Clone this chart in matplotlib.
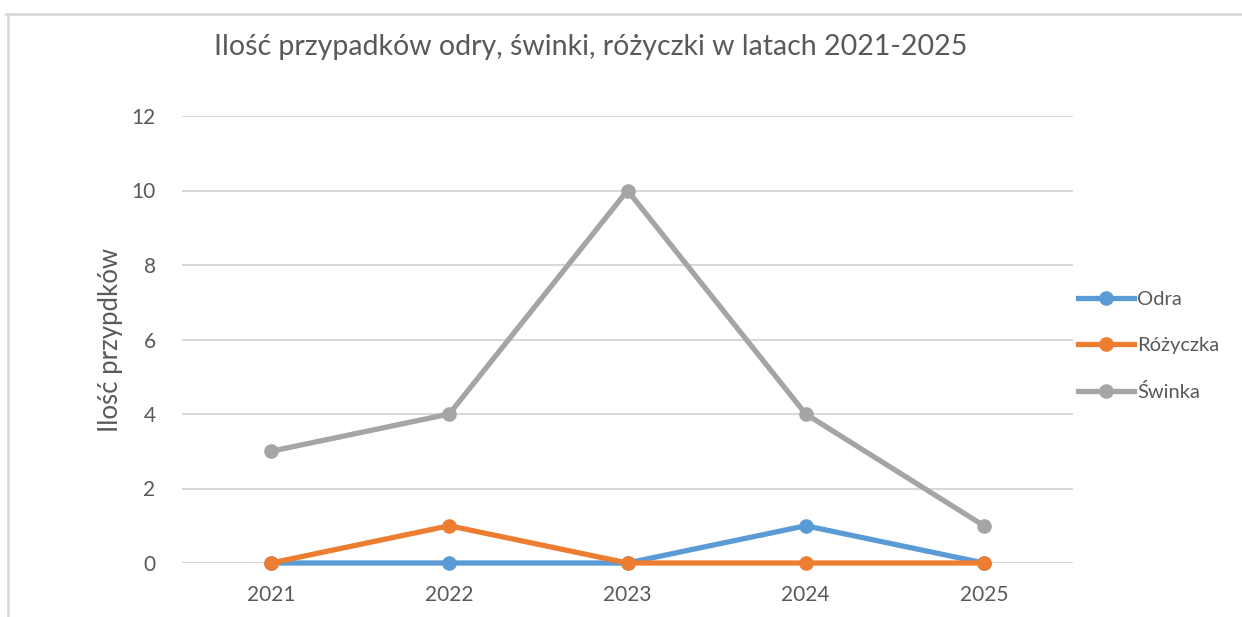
import matplotlib
matplotlib.use("Agg")
import matplotlib.pyplot as plt
from matplotlib.lines import Line2D

years = ["2021", "2022", "2023", "2024", "2025"]
odra = [0, 0, 0, 1, 0]
rozyczka = [0, 1, 0, 0, 0]
swinka = [3, 4, 10, 4, 1]
series_names = ["Odra", "Różyczka", "Świnka"]
yticks = [0, 2, 4, 6, 8, 10, 12]

colors = ["#5B9BD5", "#ED7D31", "#A5A5A5"]
txt = "#595959"
plt.rcParams["font.family"] = ["Lato", "DejaVu Sans"]

fig = plt.figure(figsize=(12.42, 6.17), dpi=100)
ax = fig.add_axes([182/1242, 1-563/617, (1073-182)/1242, (563-116)/617])

x = list(range(len(years)))
for vals, name, c in zip([odra, rozyczka, swinka], series_names, colors):
    ax.plot(x, vals, color=c, lw=3.8, marker="o", ms=9.5, label=name,
            solid_capstyle="round", zorder=3, clip_on=False)

ax.set_xlim(-0.5, len(years) - 0.5)
ax.set_ylim(0, 12)
ax.set_yticks(yticks)
ax.set_xticks(x)
ax.set_xticklabels(years)
ax.grid(axis="y", color="#D9D9D9", lw=1.5)
ax.set_axisbelow(True)
for s in ax.spines.values():
    s.set_visible(False)
ax.tick_params(length=0, labelsize=15, colors=txt)
ax.tick_params(axis="y", pad=19)
ax.tick_params(axis="x", pad=16)
ax.set_ylabel("Ilość przypdków", fontsize=18.5, color=txt, labelpad=6)

fig.text(591/1242, 1-47/617, "Ilość przypadków odry, świnki, różyczki w latach 2021-2025",
         ha="center", va="center", fontsize=20.5, color=txt)

handles = [Line2D([], [], color=c, lw=3.8, marker="o", ms=9.5) for c in colors]
fig.legend(handles, series_names, loc="center left", bbox_to_anchor=(1074/1242, 1-346/617),
           frameon=False, fontsize=14.5, labelcolor=txt, handlelength=2.8,
           handletextpad=0.15, labelspacing=1.45, borderaxespad=0, borderpad=0.2)

# outer border
fig.add_artist(Line2D([6/1242, 1], [1-13.5/617]*2, color="#D9D9D9", lw=2, transform=fig.transFigure))
fig.add_artist(Line2D([7.5/1242]*2, [0, 1-13.5/617], color="#D9D9D9", lw=2, transform=fig.transFigure))

fig.savefig("out.png", dpi=100)
